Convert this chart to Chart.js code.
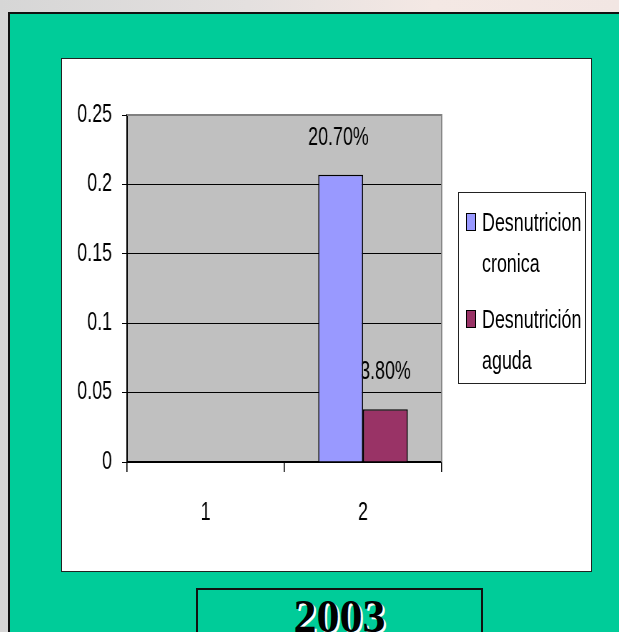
<!DOCTYPE html>
<html>
<head>
<meta charset="utf-8">
<script src="https://cdn.jsdelivr.net/npm/chart.js@4/dist/chart.umd.min.js"></script>
<style>
  html, body { margin: 0; padding: 0; }
  body { width: 619px; height: 632px; overflow: hidden; position: relative;
    background: linear-gradient(90deg, #d6d6d6 0%, #e4e0df 40%, #f4e8e4 70%, #f2e6e3 100%); font-family: 'Liberation Sans', Arial, sans-serif; }
  #frame { position: absolute; left: 8px; top: 12px; width: 640px; height: 660px; background: #00cc99; border: 2px solid #111; }
  #panel { position: absolute; left: 61px; top: 58px; width: 529px; height: 512px; background: #fff; border: 1px solid #222; overflow: hidden; }
  /* the original's text is strongly condensed: draw wide, then squeeze horizontally */
  #panel canvas { position: absolute; left: 0; top: 0; transform: scaleX(0.715); transform-origin: 0 0; }
  #legend { position: absolute; left: 396px; top: 133px; width: 128px; height: 192px; border: 1px solid #222; background: #fff; box-sizing: border-box; }
  .lg-item { position: absolute; left: 7px; width: 118px; }
  .lg-box { position: absolute; left: 0; top: 11px; width: 10px; height: 18px; border: 1.5px solid #000; box-sizing: border-box; }
  .lg-text { position: absolute; left: 16px; top: 0; width: 150px; font-size: 25px; line-height: 41px; color: #000;
    transform: scaleX(0.715); transform-origin: 0 0; }
  #year { position: absolute; left: 196px; top: 588px; width: 287px; height: 80px; border: 2px solid #111; background: #00cc99;
    text-align: center; font: bold 46px 'Liberation Serif', 'Times New Roman', serif; line-height: 46px; padding-top: 4px; box-sizing: border-box;
    color: #000; text-shadow: 2px 2px 0 #fff; }
</style>
</head>
<body>
<div id="frame"></div>
<div id="panel">
  <canvas id="chart" width="740" height="512"></canvas>
  <div id="legend"></div>
</div>
<div id="year">2003</div>
<script>
// ─── Data ───
const categories = ['1', '2'];
const seriesNames = ['Desnutricion cronica', 'Desnutrición aguda'];
const cronica = [null, 0.207];
const aguda = [null, 0.038];
const seriesColors = ['#9999ff', '#993366'];
const yTicks = [0, 0.05, 0.1, 0.15, 0.2, 0.25];

const FONT = "'Liberation Sans', Arial, sans-serif";
const SX = 0.715; // horizontal squeeze applied to the canvas

// plot background + grey top/right frame
const plotFrame = {
  id: 'plotFrame',
  beforeDraw(chart) {
    const { ctx, chartArea: a } = chart;
    ctx.save();
    ctx.fillStyle = '#c0c0c0';
    ctx.fillRect(a.left, a.top, a.right - a.left, a.bottom - a.top);
    ctx.restore();
  },
  afterDraw(chart) {
    const { ctx, chartArea: a } = chart;
    ctx.save();
    ctx.strokeStyle = '#808080';
    ctx.lineWidth = 1.8;
    ctx.beginPath();
    ctx.moveTo(a.left, a.top);
    ctx.lineTo(a.right, a.top);
    ctx.lineTo(a.right, a.bottom);
    ctx.stroke();
    ctx.restore();
  }
};

// value labels above bars (drawn under the bars, like the original)
const valueLabels = {
  id: 'valueLabels',
  beforeDatasetsDraw(chart) {
    const { ctx } = chart;
    ctx.save();
    ctx.font = `25px ${FONT}`;
    ctx.fillStyle = '#000';
    ctx.textAlign = 'center';
    ctx.textBaseline = 'middle';
    chart.data.datasets.forEach((ds, i) => {
      chart.getDatasetMeta(i).data.forEach((bar, j) => {
        const v = ds.data[j];
        if (v == null) return;
        ctx.fillText((v * 100).toFixed(2) + '%', bar.x - (i === 0 ? 3 : 0), bar.y - 37);
      });
    });
    ctx.restore();
  }
};

const chart = new Chart(document.getElementById('chart'), {
  type: 'bar',
  data: {
    labels: categories,
    datasets: [
      { label: seriesNames[0], data: cronica, backgroundColor: seriesColors[0], borderColor: '#000', borderWidth: 1.6 },
      { label: seriesNames[1], data: aguda, backgroundColor: seriesColors[1], borderColor: '#000', borderWidth: 1.6 },
    ]
  },
  options: {
    responsive: false,
    animation: false,
    categoryPercentage: 0.57,
    barPercentage: 1,
    layout: { padding: { left: 0, top: 56, right: 209, bottom: 49 } },
    plugins: { legend: { display: false }, tooltip: { enabled: false } },
    scales: {
      x: {
        afterFit: s => { s.height = 60; },
        grid: { drawOnChartArea: false, tickLength: 10, color: '#000', lineWidth: 1.6, offset: true },
        border: { color: '#000', width: 1.6 },
        ticks: { color: '#000', font: { family: FONT, size: 25 }, padding: 26 }
      },
      y: {
        min: 0, max: 0.25,
        afterFit: s => { s.width = 91; },
        afterBuildTicks: s => { s.ticks = yTicks.map(v => ({ value: v })); },
        grid: { color: c => (c.tick && c.tick.value === 0.25 ? '#808080' : '#000'), tickColor: '#000', tickLength: 7 },
        border: { color: '#000', width: 2 },
        ticks: { color: '#000', font: { family: FONT, size: 25 }, padding: 14, callback: v => String(Number(v.toFixed(2))) }
      }
    }
  },
  plugins: [plotFrame, valueLabels]
});

// legend (two-line labels, built from the chart's datasets)
const legend = document.getElementById('legend');
const tops = [9, 106];
chart.data.datasets.forEach((ds, i) => {
  const item = document.createElement('div');
  item.className = 'lg-item';
  item.style.top = tops[i] + 'px';
  item.innerHTML = `<div class="lg-box" style="background:${ds.backgroundColor}"></div><div class="lg-text">${ds.label}</div>`;
  legend.appendChild(item);
});
</script>
</body>
</html>
